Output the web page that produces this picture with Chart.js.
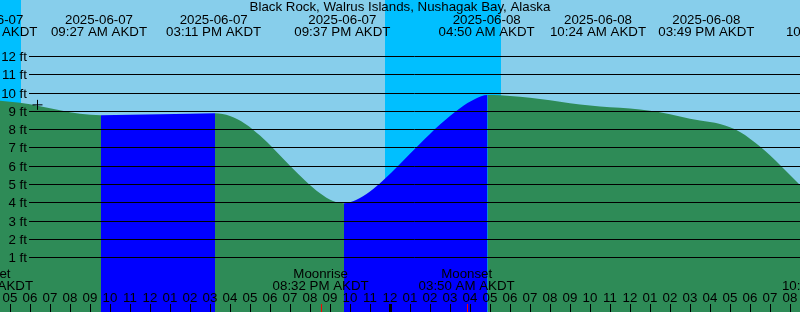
<!DOCTYPE html>
<html><head><meta charset="utf-8">
<script src="https://cdn.jsdelivr.net/npm/chart.js@4/dist/chart.umd.min.js"></script>
<style>html,body{margin:0;padding:0;background:#87CEEB;overflow:hidden}#wrap{width:800px;height:312px;position:relative}canvas{display:block}</style>
</head><body><div id="wrap"><canvas id="c" width="800" height="312"></canvas></div>
<script>
const title = 'Black Rock, Walrus Islands, Nushagak Bay, Alaska';
// tide level samples: hours since 2025-06-07 00:00 AKDT, feet
const tideHours = [4.5, 5.5, 6.5, 7.5, 8.5, 9.55, 11.0, 12.5, 14.0, 15.25, 16.0, 16.75, 17.5, 18.25, 19.0, 19.75, 20.5, 21.15, 21.7, 22.3, 23.0, 23.65, 24.5, 25.5, 26.5, 27.5, 28.25, 28.875, 29.5, 30.5, 31.5, 32.5, 33.5, 34.5, 35.5, 36.5, 37.5, 38.5, 39.5, 40.5, 41.5, 42.5, 43.5, 44.5];
const tideFeet  = [9.56, 9.45, 9.26, 9.03, 8.84, 8.76, 8.79, 8.82, 8.85, 8.87, 8.72, 8.30, 7.65, 6.85, 6.00, 5.20, 4.50, 4.07, 3.95, 4.13, 4.60, 5.20, 6.10, 7.20, 8.25, 9.15, 9.65, 9.87, 9.85, 9.77, 9.65, 9.50, 9.35, 9.24, 9.17, 9.08, 8.92, 8.70, 8.47, 8.28, 7.85, 7.05, 6.05, 4.95];
// tide event labels (top)
const eventHours = [3.97, 9.45, 15.183, 21.617, 28.833, 34.4, 39.817, 46.2];
const eventDates = ['2025-06-07', '2025-06-07', '2025-06-07', '2025-06-07', '2025-06-08', '2025-06-08', '2025-06-08', '2025-06-08'];
const eventTimes = ['03:58 AM AKDT', '09:27 AM AKDT', '03:11 PM AKDT', '09:37 PM AKDT', '04:50 AM AKDT', '10:24 AM AKDT', '03:49 PM AKDT', '10:12 PM AKDT'];
// moon events (bottom)
const moonHours = [3.75, 20.533, 27.833, 46.0];
const moonNames = ['Moonset', 'Moonrise', 'Moonset', 'Moonrise'];
const moonTimes = ['03:45 AM AKDT', '08:32 PM AKDT', '03:50 AM AKDT', '10:00 PM AKDT'];
// night intervals
const sunsetHours = [-0.25, 23.75];
const sunriseHours = [5.55, 29.55];
// axis ticks
const hourTickStart = 5;
const hourLabels = ['05','06','07','08','09','10','11','12','01','02','03','04','05','06','07','08','09','10','11','12','01','02','03','04','05','06','07','08','09','10','11','12','01','02','03','04','05','06','07','08'];
const midnightHours = [24];
const feetTicks = [1, 2, 3, 4, 5, 6, 7, 8, 9, 10, 11, 12];
const feetLabels = ['1 ft','2 ft','3 ft','4 ft','5 ft','6 ft','7 ft','8 ft','9 ft','10 ft','11 ft','12 ft'];
const nowHours = [6.375];
const nowFeet = [9.33];

const DAY = '#87CEEB', NIGHT = '#00BFFF', FLOOD = '#0000FF', EBB = '#2E8B57';
const FONT = '13.3px "Liberation Sans", Arial, sans-serif';

const tidePts = tideHours.map((h, i) => ({x: h, y: tideFeet[i]}));
const nowPts = nowHours.map((h, i) => ({x: h, y: nowFeet[i]}));

const bgPlugin = {
  id: 'bg',
  beforeDatasetsDraw(chart) {
    const {ctx, scales: {x}} = chart;
    ctx.save();
    ctx.fillStyle = DAY;
    ctx.fillRect(0, 0, chart.width, chart.height);
    ctx.fillStyle = NIGHT;
    for (let i = 0; i < sunsetHours.length; i++) {
      const a = Math.round(x.getPixelForValue(sunsetHours[i]));
      const b = Math.round(x.getPixelForValue(sunriseHours[i]));
      ctx.fillRect(a, 0, b - a, chart.height);
    }
    ctx.restore();
  }
};

const fgPlugin = {
  id: 'fg',
  afterDatasetsDraw(chart) {
    const {ctx, scales: {x, y}} = chart;
    ctx.save();
    ctx.font = FONT;
    ctx.fillStyle = '#000';
    ctx.strokeStyle = '#000';
    ctx.lineWidth = 1;
    // grid lines + y labels
    ctx.textAlign = 'right';
    ctx.textBaseline = 'alphabetic';
    feetTicks.forEach((f, i) => {
      const py = Math.round(y.getPixelForValue(f)) + 0.5;
      ctx.beginPath(); ctx.moveTo(29, py); ctx.lineTo(chart.width, py); ctx.stroke();
      ctx.fillText(feetLabels[i], 27, py + 4.5);
    });
    // title
    ctx.textAlign = 'center';
    ctx.fillText(title, chart.width / 2, 11);
    // tide events
    eventHours.forEach((h, i) => {
      const px = x.getPixelForValue(h);
      ctx.fillText(eventDates[i], px, 23.5);
      ctx.fillText(eventTimes[i], px, 35.5);
    });
    // moon events
    moonHours.forEach((h, i) => {
      const px = x.getPixelForValue(h);
      ctx.fillText(moonNames[i], px, 278);
      ctx.fillText(moonTimes[i], px, 290);
    });
    // hour labels and ticks
    hourLabels.forEach((lab, i) => {
      const px = Math.round(x.getPixelForValue(hourTickStart + i));
      ctx.fillText(lab, px, 302);
      ctx.fillRect(px, 304, 1, 8);
    });
    midnightHours.forEach(h => {
      const px = Math.round(x.getPixelForValue(h));
      ctx.fillRect(px - 1, 304, 3, 8);
    });
    ctx.fillStyle = '#FF0000';
    moonHours.forEach(h => {
      const px = Math.round(x.getPixelForValue(h));
      ctx.fillRect(px, 304, 1, 8);
    });
    ctx.restore();
  }
};

new Chart(document.getElementById('c'), {
  type: 'line',
  data: {
    datasets: [
      {
        label: 'Tide',
        data: tidePts,
        borderWidth: 0,
        borderColor: 'rgba(0,0,0,0)',
        backgroundColor: EBB,
        pointRadius: 0,
        pointHoverRadius: 0,
        fill: 'start',
        clip: false,
        cubicInterpolationMode: 'monotone',
        segment: {
          backgroundColor: c => (c.p1.parsed.y > c.p0.parsed.y ? FLOOD : EBB)
        },
        order: 2
      },
      {
        label: 'Now',
        data: nowPts,
        showLine: false,
        fill: false,
        pointStyle: 'cross',
        pointRadius: 5,
        pointHoverRadius: 5,
        borderColor: '#000',
        borderWidth: 1,
        order: 1
      }
    ]
  },
  options: {
    responsive: false,
    devicePixelRatio: 1,
    animation: false,
    events: [],
    layout: {padding: 0, autoPadding: false},
    plugins: {legend: {display: false}, tooltip: {enabled: false}, title: {display: false}},
    scales: {
      x: {type: 'linear', min: 4.5, max: 44.5, display: false},
      y: {type: 'linear', min: -1.99, max: 15.06, display: false}
    }
  },
  plugins: [bgPlugin, fgPlugin]
});
</script>
</body></html>
